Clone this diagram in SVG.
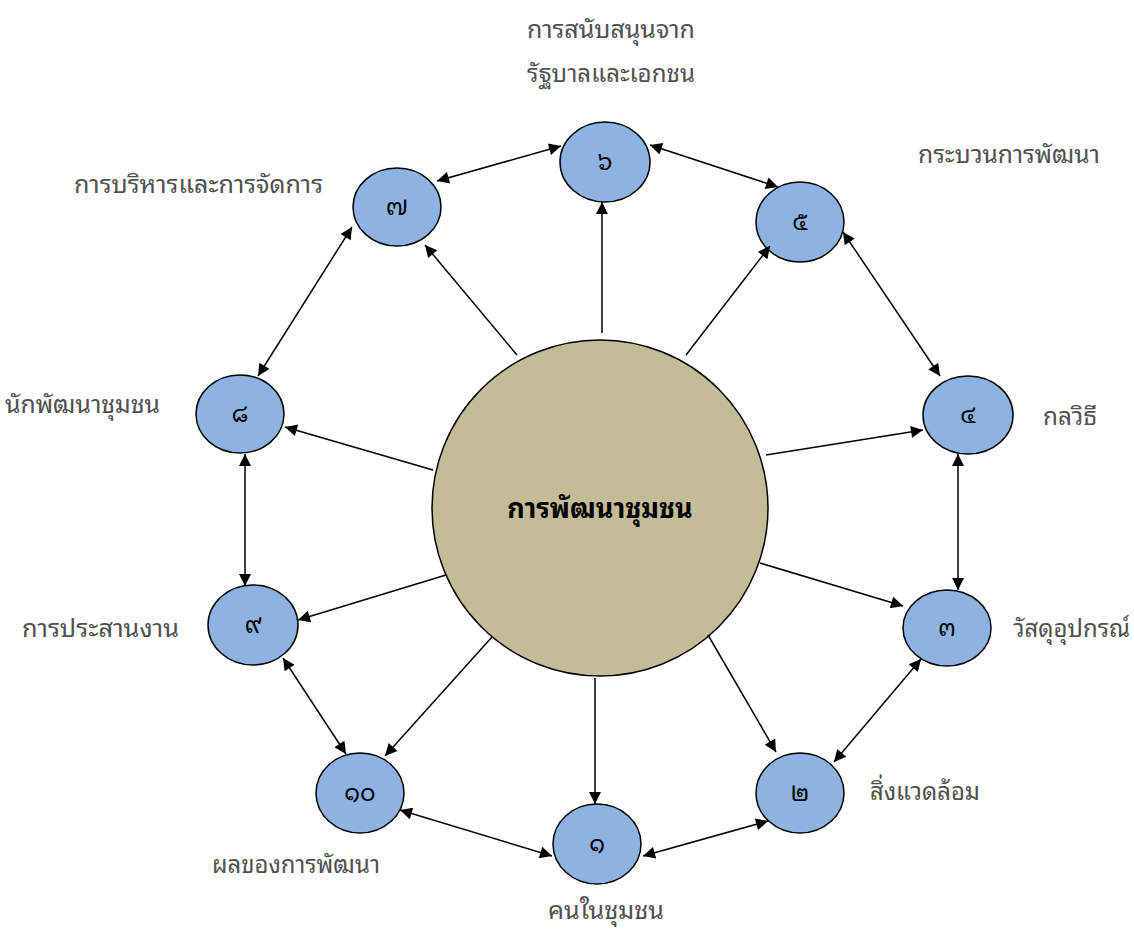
<svg xmlns="http://www.w3.org/2000/svg" width="1134" height="931" viewBox="0 0 1134 931">
<style>
.n{fill:#8DB3E2;stroke:#000;stroke-width:1.5}
.c{fill:#C4BC96;stroke:#000;stroke-width:1.5}
.num{font-family:"Noto Sans Thai Looped","Noto Sans Thai","Noto Sans","DejaVu Sans",sans-serif;font-size:24px;fill:#000;text-anchor:middle}
.lbl{font-family:"Noto Sans Thai Looped","Noto Sans Thai","Noto Sans","DejaVu Sans",sans-serif;font-size:24px;fill:#505050}
.ctr{font-family:"Noto Sans Thai Looped","Noto Sans Thai","Noto Sans","DejaVu Sans",sans-serif;font-size:27px;font-weight:bold;fill:#000;text-anchor:middle}
.e line{stroke:#000;stroke-width:1.5;fill:none}
</style>
<defs>
<marker id="a" viewBox="0 0 10 10" refX="10" refY="5" markerWidth="16" markerHeight="12" markerUnits="userSpaceOnUse" orient="auto-start-reverse">
<path d="M0,0 L10,5 L0,10 z" fill="#000"/>
</marker>
</defs>
<g id="center"><circle class="c" cx="600" cy="508" r="168"/><text class="ctr" x="600" y="518">การพัฒนาชุมชน</text></g>
<g id="n6"><ellipse class="n" cx="605" cy="162" rx="45" ry="40"/><text class="num" x="605" y="170">๖</text></g>
<g id="n5"><ellipse class="n" cx="800" cy="222" rx="44" ry="40"/><text class="num" x="800" y="230">๕</text></g>
<g id="n4"><ellipse class="n" cx="968" cy="415" rx="45" ry="39"/><text class="num" x="968" y="423">๔</text></g>
<g id="n3"><ellipse class="n" cx="947" cy="628" rx="44" ry="38"/><text class="num" x="947" y="636">๓</text></g>
<g id="n2"><ellipse class="n" cx="800" cy="793" rx="44" ry="40"/><text class="num" x="800" y="801">๒</text></g>
<g id="n1"><ellipse class="n" cx="597" cy="844" rx="44" ry="40"/><text class="num" x="597" y="852">๑</text></g>
<g id="n10"><ellipse class="n" cx="360" cy="793" rx="44" ry="40"/><text class="num" x="360" y="801">๑๐</text></g>
<g id="n9"><ellipse class="n" cx="253" cy="625" rx="45" ry="40"/><text class="num" x="253" y="633">๙</text></g>
<g id="n8"><ellipse class="n" cx="240" cy="414" rx="44" ry="39"/><text class="num" x="240" y="422">๘</text></g>
<g id="n7"><ellipse class="n" cx="397" cy="207" rx="44" ry="39"/><text class="num" x="397" y="215">๗</text></g>
<g id="labels">
<text class="lbl" x="527" y="38" textLength="168" lengthAdjust="spacingAndGlyphs">การสนับสนุนจาก</text>
<text class="lbl" x="527" y="82" textLength="168" lengthAdjust="spacingAndGlyphs">รัฐบาลและเอกชน</text>
<text class="lbl" x="918" y="163" textLength="182" lengthAdjust="spacingAndGlyphs">กระบวนการพัฒนา</text>
<text class="lbl" x="74" y="193" textLength="249" lengthAdjust="spacingAndGlyphs">การบริหารและการจัดการ</text>
<text class="lbl" x="5" y="413" textLength="155" lengthAdjust="spacingAndGlyphs">นักพัฒนาชุมชน</text>
<text class="lbl" x="1043" y="425" textLength="54" lengthAdjust="spacingAndGlyphs">กลวิธี</text>
<text class="lbl" x="1013" y="637" textLength="117" lengthAdjust="spacingAndGlyphs">วัสดุอุปกรณ์</text>
<text class="lbl" x="22" y="637" textLength="157" lengthAdjust="spacingAndGlyphs">การประสานงาน</text>
<text class="lbl" x="870" y="800" textLength="110" lengthAdjust="spacingAndGlyphs">สิ่งแวดล้อม</text>
<text class="lbl" x="212" y="873" textLength="168" lengthAdjust="spacingAndGlyphs">ผลของการพัฒนา</text>
<text class="lbl" x="548" y="919" textLength="116" lengthAdjust="spacingAndGlyphs">คนในชุมชน</text>
</g>
<g id="connectors" class="e">
<line x1="602" y1="333" x2="602" y2="202" marker-end="url(#a)"/>
<line x1="517" y1="355" x2="425" y2="245" marker-end="url(#a)"/>
<line x1="686" y1="355" x2="770" y2="246" marker-end="url(#a)"/>
<line x1="433" y1="470" x2="285" y2="427" marker-end="url(#a)"/>
<line x1="766" y1="455" x2="923" y2="430" marker-end="url(#a)"/>
<line x1="760" y1="563" x2="903" y2="606" marker-end="url(#a)"/>
<line x1="708" y1="635" x2="776" y2="752" marker-end="url(#a)"/>
<line x1="595" y1="678" x2="595" y2="804" marker-end="url(#a)"/>
<line x1="492" y1="637" x2="385" y2="756" marker-end="url(#a)"/>
<line x1="446" y1="575" x2="298" y2="620" marker-end="url(#a)"/>
<line x1="437" y1="181" x2="561" y2="146" marker-start="url(#a)" marker-end="url(#a)"/>
<line x1="650" y1="145" x2="778" y2="187" marker-start="url(#a)" marker-end="url(#a)"/>
<line x1="843" y1="232" x2="940" y2="376" marker-start="url(#a)" marker-end="url(#a)"/>
<line x1="958" y1="454" x2="958" y2="590" marker-start="url(#a)" marker-end="url(#a)"/>
<line x1="921" y1="659" x2="834" y2="762" marker-start="url(#a)" marker-end="url(#a)"/>
<line x1="768" y1="821" x2="643" y2="856" marker-start="url(#a)" marker-end="url(#a)"/>
<line x1="552" y1="856" x2="400" y2="810" marker-start="url(#a)" marker-end="url(#a)"/>
<line x1="346" y1="754" x2="283" y2="658" marker-start="url(#a)" marker-end="url(#a)"/>
<line x1="245" y1="586" x2="245" y2="454" marker-start="url(#a)" marker-end="url(#a)"/>
<line x1="258" y1="376" x2="352" y2="227" marker-start="url(#a)" marker-end="url(#a)"/>
</g>
</svg>
